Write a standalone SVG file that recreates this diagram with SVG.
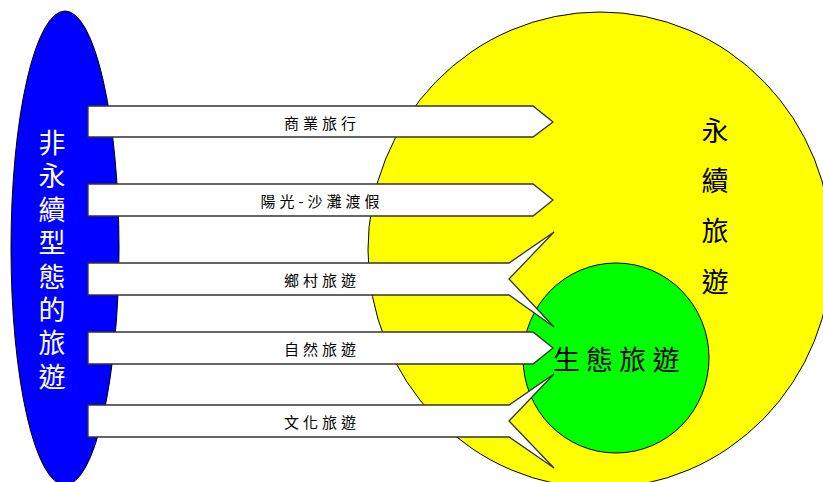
<svg xmlns="http://www.w3.org/2000/svg" width="823" height="482" viewBox="0 0 823 482">
<style>
.shape{stroke:#000;stroke-width:1}
.arrow{fill:#fff;stroke:#333;stroke-width:1.3;stroke-linejoin:miter}
.lbl{font-family:"Noto Sans CJK TC","Noto Sans CJK SC",sans-serif;font-size:15px;fill:#000;letter-spacing:4px;text-anchor:middle;dominant-baseline:central}
.big{font-family:"Noto Sans CJK TC","Noto Sans CJK SC",sans-serif;font-size:27px;text-anchor:middle;dominant-baseline:central}
</style>
<rect width="823" height="482" fill="#fff"/>
<g id="non-sustainable">
<ellipse class="shape" cx="65" cy="248" rx="54" ry="237" fill="#0000ff"/>
<text class="big" fill="#fff" x="52 52 52 52 52 52 52 52" y="141 174.5 208 241.5 275 308 341.5 375">非永續型態的旅遊</text>
</g>
<g id="sustainable">
<ellipse class="shape" cx="600" cy="250" rx="232" ry="238" fill="#ffff00"/>
<text class="big" fill="#000" x="715 715 715 715" y="129 179 229 280">永續旅遊</text>
</g>
<g id="eco">
<ellipse class="shape" cx="616" cy="358" rx="93" ry="95" fill="#00ff00"/>
</g>
<g id="connectors">
<g id="a1"><path class="arrow" d="M88,106 H533 L553,122 L533,137 H88 Z"/><text class="lbl" x="322" y="122">商業旅行</text></g>
<g id="a2"><path class="arrow" d="M88,184 H533 L553,200 L533,216 H88 Z"/><text class="lbl" x="322" y="200">陽光-沙灘渡假</text></g>
<g id="a3"><path class="arrow" d="M88,263 H509 L554,232 L509,279 L554,327 L509,295 H88 Z"/><text class="lbl" x="322" y="279">鄉村旅遊</text></g>
<g id="a4"><path class="arrow" d="M88,332 H533 L553,348 L533,364 H88 Z"/><text class="lbl" x="322" y="348">自然旅遊</text></g>
<g id="a5"><path class="arrow" d="M88,405 H509 L554,374 L509,421 L554,468 L509,437 H88 Z"/><text class="lbl" x="322" y="421">文化旅遊</text></g>
</g>
<g id="eco-label">
<text class="big" fill="#000" x="566.5 599.5 632.5 666" y="358 358 358 358">生態旅遊</text>
</g>
</svg>
